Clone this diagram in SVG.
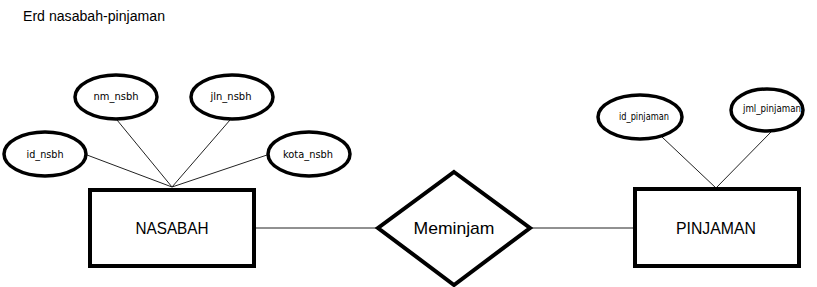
<svg xmlns="http://www.w3.org/2000/svg" width="817" height="287" viewBox="0 0 817 287">
<style>
.attr{fill:#fff;stroke:#000;stroke-width:3.5}
.ent{fill:#fff;stroke:#000;stroke-width:4}
.conn{stroke:#222;stroke-width:1;fill:none}
.at{font-family:"DejaVu Sans",Verdana,sans-serif;font-size:10px;fill:#000;text-anchor:middle}
.big{font-family:"Liberation Sans",Arial,sans-serif;font-size:17px;fill:#000;text-anchor:middle}
</style>
<rect width="817" height="287" fill="#fff"/>
<text x="23" y="21" font-family="Liberation Sans, Arial, sans-serif" font-size="14" textLength="142" lengthAdjust="spacingAndGlyphs">Erd nasabah-pinjaman</text>
<g id="connectors">
<line class="conn" x1="87" y1="155" x2="172" y2="187"/>
<line class="conn" x1="117" y1="120" x2="172" y2="187"/>
<line class="conn" x1="230" y1="120" x2="172" y2="187"/>
<line class="conn" x1="267" y1="155" x2="172" y2="187"/>
<line class="conn" x1="255" y1="228" x2="378" y2="228"/>
<line class="conn" x1="530" y1="228" x2="633" y2="228"/>
<line class="conn" x1="662" y1="137" x2="716" y2="188"/>
<line class="conn" x1="771" y1="132" x2="716" y2="188"/>
</g>
<g id="id_nsbh"><ellipse class="attr" cx="45" cy="154" rx="41" ry="22"/><text class="at" x="45" y="158" textLength="37" lengthAdjust="spacingAndGlyphs">id_nsbh</text></g>
<g id="nm_nsbh"><ellipse class="attr" cx="116" cy="97" rx="41" ry="22"/><text class="at" x="116" y="100" textLength="45" lengthAdjust="spacingAndGlyphs">nm_nsbh</text></g>
<g id="jln_nsbh"><ellipse class="attr" cx="232" cy="97" rx="41" ry="22"/><text class="at" x="231" y="100" textLength="41" lengthAdjust="spacingAndGlyphs">jln_nsbh</text></g>
<g id="kota_nsbh"><ellipse class="attr" cx="309" cy="154" rx="41" ry="22"/><text class="at" x="308" y="158" textLength="50" lengthAdjust="spacingAndGlyphs">kota_nsbh</text></g>
<g id="nasabah"><rect class="ent" x="90" y="190" width="164" height="76"/><text class="big" x="172" y="234" textLength="73" lengthAdjust="spacingAndGlyphs">NASABAH</text></g>
<g id="meminjam"><polygon class="ent" points="454,172 530,228 454,285 378,228"/><text class="big" x="454" y="234" textLength="81" lengthAdjust="spacingAndGlyphs">Meminjam</text></g>
<g id="pinjaman"><rect class="ent" x="635" y="189" width="164" height="77"/><text class="big" x="716" y="234" textLength="80" lengthAdjust="spacingAndGlyphs">PINJAMAN</text></g>
<g id="id_pinjaman"><ellipse class="attr" cx="640" cy="117" rx="42" ry="22"/><text class="at" x="644" y="120" font-size="9" textLength="50" lengthAdjust="spacingAndGlyphs">id_pinjaman</text></g>
<g id="jml_pinjaman"><ellipse class="attr" cx="767" cy="110" rx="36" ry="21"/><text class="at" x="772" y="112" font-size="9" textLength="58" lengthAdjust="spacingAndGlyphs">jml_pinjaman</text></g>
</svg>
